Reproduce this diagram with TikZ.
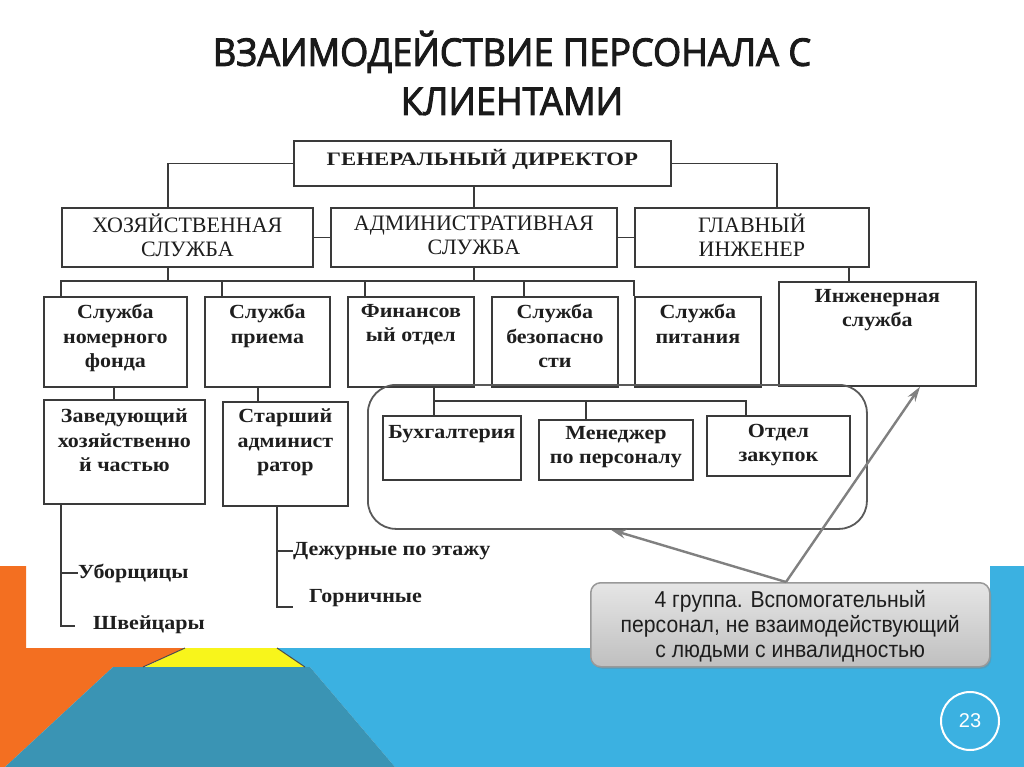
\documentclass[tikz,border=0pt]{standalone}
\usepackage{fontspec}
\usetikzlibrary{calc,arrows.meta,shadows}
\setmainfont{Liberation Serif}
\newfontfamily\dirfont[FakeStretch=1.2]{Liberation Serif}
\newfontfamily\lvtwofont[FakeStretch=1.0]{Liberation Serif}
\newfontfamily\lvfont[FakeStretch=1.1]{Liberation Serif}
\newfontfamily\callfont[FakeStretch=0.92]{Liberation Sans}
\newfontfamily\titlefont[FakeStretch=0.95,FakeBold=2.6]{Open Sans}
\newfontfamily\numfont{Liberation Sans}
\definecolor{orangec}{HTML}{F36F21}
\definecolor{yellowc}{HTML}{F8F51B}
\definecolor{tealc}{HTML}{3A94B4}
\definecolor{lbluec}{HTML}{3BB1E1}
\definecolor{boxc}{HTML}{3A3A3A}
\definecolor{textc}{HTML}{1E1E1E}
\definecolor{titlec}{HTML}{1A1A1A}
\definecolor{arrc}{HTML}{808080}
\tikzset{
  box/.style={draw=boxc, line width=1.8pt, inner sep=0pt, anchor=north west},
  conn/.style={draw=boxc, line width=1.6pt},
  dirtxt/.style={font=\dirfont\bfseries\fontsize{19}{22}\selectfont, text=textc, inner sep=0pt},
  twotxt/.style={font=\lvtwofont\fontsize{22}{24.5}\selectfont, align=center, text=textc, inner sep=0pt},
  lvtxt/.style={font=\lvfont\bfseries\fontsize{20}{24.5}\selectfont, align=center, text=textc, inner sep=0pt, anchor=north},
  leaf/.style={font=\lvfont\bfseries\fontsize{20}{24}\selectfont, text=textc, inner sep=0pt, anchor=west},
  arr/.style={draw=arrc, line width=2.4pt, -{Stealth[length=15pt,width=9pt]}}
}
\begin{document}
\begin{tikzpicture}[x=1pt,y=-1pt]
\useasboundingbox (0,0) rectangle (1024,767);
\fill[white] (0,0) rectangle (1024,767);
% background decoration
\fill[orangec] (0,566) -- (26,566) -- (26,648) -- (185,648) -- (143,667) -- (113,667) -- (5,767) -- (0,767) -- cycle;
\fill[lbluec] (277,648) -- (990,648) -- (990,566) -- (1024,566) -- (1024,767) -- (395,767) -- (310,667) -- (305,667) -- cycle;
\fill[yellowc] (185,648) -- (277,648) -- (305,667) -- (145,667) -- cycle;
\fill[tealc] (113,667) -- (310,667) -- (395,767) -- (5,767) -- cycle;
\draw[black!70, line width=1pt] (185,648) -- (143,667);
\draw[black!70, line width=1pt] (277,648) -- (305,667);
% title
\node[font=\titlefont\fontsize{38}{49}\selectfont, align=center, text=titlec] (title) at (512,73) {ВЗАИМОДЕЙСТВИЕ ПЕРСОНАЛА С\\КЛИЕНТАМИ};
% page number
\node[circle, draw=white, line width=2pt, minimum size=58pt, inner sep=0pt, text=white, font=\numfont\fontsize{20}{24}\selectfont] (pnum) at (970,721) {23};
% boxes
\node[box, minimum width=377pt, minimum height=45pt] (dir) at (293,140) {};
\node[box, minimum width=251pt, minimum height=59pt] (hoz) at (61,207) {};
\node[box, minimum width=286pt, minimum height=59pt] (adm) at (330,207) {};
\node[box, minimum width=234pt, minimum height=59pt] (eng) at (634,207) {};
\node[box, minimum width=143pt, minimum height=90pt] (nom) at (43,296) {};
\node[box, minimum width=125pt, minimum height=90pt] (pri) at (204,296) {};
\node[box, minimum width=126pt, minimum height=90pt] (fin) at (347,296) {};
\node[box, minimum width=126pt, minimum height=90pt] (bez) at (491,296) {};
\node[box, minimum width=126pt, minimum height=90pt] (pit) at (634,296) {};
\node[box, minimum width=197pt, minimum height=104pt] (ing) at (778,281) {};
\node[box, minimum width=161pt, minimum height=104pt] (zav) at (43,399) {};
\node[box, minimum width=125pt, minimum height=104pt] (sta) at (222,401) {};
\node[box, rounded corners=28pt, minimum width=499pt, minimum height=144pt, draw=black!65] (group) at (367,384) {};
\node[box, minimum width=138pt, minimum height=64pt] (buh) at (382,415) {};
\node[box, minimum width=154pt, minimum height=60pt] (men) at (538,419) {};
\node[box, minimum width=143pt, minimum height=60pt] (zak) at (706,415) {};
% texts
\node[dirtxt] (tdir) at ($(dir.center)+(0,-4)$) {ГЕНЕРАЛЬНЫЙ ДИРЕКТОР};
\node[twotxt] (thoz) at ($(hoz.center)+(0,-2)$) {ХОЗЯЙСТВЕННАЯ\\СЛУЖБА};
\node[twotxt] (tadm) at ($(adm.center)+(0,-2)$) {АДМИНИСТРАТИВНАЯ\\СЛУЖБА};
\node[twotxt] (teng) at ($(eng.center)+(0,-2)$) {ГЛАВНЫЙ\\ИНЖЕНЕР};
\node[lvtxt] (tnom) at ($(nom.north)+(0,8)$) {Служба\\номерного\\фонда};
\node[lvtxt] (tpri) at ($(pri.north)+(0,8)$) {Служба\\приема};
\node[lvtxt] (tfin) at ($(fin.north)+(0,8)$) {Финансов\\ый отдел};
\node[lvtxt] (tbez) at ($(bez.north)+(0,8)$) {Служба\\безопасно\\сти};
\node[lvtxt] (tpit) at ($(pit.north)+(0,8)$) {Служба\\питания};
\node[lvtxt] (ting) at ($(ing.north)+(0,8)$) {Инженерная\\служба};
\node[lvtxt] (tzav) at ($(zav.north)+(0,10)$) {Заведующий\\хозяйственно\\й частью};
\node[lvtxt] (tsta) at ($(sta.north)+(0,8)$) {Старший\\админист\\ратор};
\node[lvtxt] (tbuh) at ($(buh.north)+(0,10)$) {Бухгалтерия};
\node[lvtxt] (tmen) at ($(men.north)+(0,7)$) {Менеджер\\по персоналу};
\node[lvtxt] (tzak) at ($(zak.north)+(0,9)$) {Отдел\\закупок};
% leaves
\node[leaf] (ubor) at (78,573) {Уборщицы};
\node[leaf] (shv) at (93,625) {Швейцары};
\node[leaf] (dej) at (293,551) {Дежурные по этажу};
\node[leaf] (gorn) at (309,598) {Горничные};
% connectors top
\coordinate (h1) at ($(hoz.north west)+(107,0)$);
\coordinate (e0) at ($(eng.north west)+(143,0)$);
\draw[conn] (dir.west) -| (h1);
\draw[conn] (dir.east) -| (e0);
\draw[conn] (dir.south -| adm.north) -- (adm.north);
\draw[conn] (hoz.east) -- (adm.west);
\draw[conn] (adm.east) -- (eng.west);
% bus to level 3
\coordinate (busL) at (61,281);
\coordinate (busR) at (634,281);
\coordinate (d1) at ($(nom.north west)+(18,0)$);
\coordinate (d2) at ($(pri.north west)+(18,0)$);
\coordinate (d3) at ($(fin.north west)+(18,0)$);
\coordinate (d4) at ($(bez.north west)+(33,0)$);
\coordinate (hs) at ($(hoz.south west)+(107,0)$);
\draw[conn] (d1) -- (busL) -- (busR) -- (pit.north west);
\draw[conn] (d2) -- (d2 |- busL);
\draw[conn] (d3) -- (d3 |- busL);
\draw[conn] (d4) -- (d4 |- busL);
\draw[conn] (hs) -- (hs |- busL);
\draw[conn] (adm.south) -- (adm.south |- busL);
\coordinate (es) at ($(eng.south west)+(215,0)$);
\draw[conn] (es) -- (es |- ing.north);
% level 3 to 4
\coordinate (ns) at ($(nom.south west)+(71,0)$);
\draw[conn] (ns) -- (ns |- zav.north);
\coordinate (ps) at ($(pri.south west)+(54,0)$);
\draw[conn] (ps) -- (ps |- sta.north);
% inner group
\coordinate (fs) at ($(fin.south west)+(87,0)$);
\coordinate (ib) at (434,401);
\coordinate (ib2) at (746,401);
\coordinate (m1) at ($(men.north west)+(48,0)$);
\coordinate (k1) at ($(zak.north west)+(40,0)$);
\draw[conn] (fs) -- (fs |- buh.north);
\draw[conn] (ib) -- (ib2) -- (k1);
\draw[conn] (m1) -- (m1 |- ib);
% leaf trees
\coordinate (z1) at ($(zav.south west)+(18,0)$);
\coordinate (zend) at (75,626);
\draw[conn] (z1) |- (zend);
\draw[conn] (z1 |- ubor.west) -- (ubor.west);
\coordinate (s1) at ($(sta.south west)+(55,0)$);
\coordinate (send) at (293,607);
\draw[conn] (s1) |- (send);
\draw[conn] (s1 |- dej.west) -- (dej.west);
% callout
\node[box, rounded corners=10pt, minimum width=399pt, minimum height=84pt, draw=black!40, line width=1.5pt, top color=black!10, bottom color=black!25, drop shadow={opacity=0.35, shadow xshift=1.5pt, shadow yshift=-2pt}] (callout) at (590,582) {};
\node[font=\callfont\fontsize{23}{25}\selectfont, align=center, text=textc, inner sep=0pt] (tcall) at ($(callout.center)+(0,1)$) {4 группа. Вспомогательный\\персонал, не взаимодействующий\\с людьми с инвалидностью};
% arrows
\coordinate (cp) at ($(callout.north west)+(196,0)$);
\coordinate (ga) at ($(group.south west)+(244,0)$);
\coordinate (ia) at ($(ing.south west)+(142,0)$);
\draw[arr] (cp) -- (ga);
\draw[arr] (cp) -- (ia);
\end{tikzpicture}
\end{document}
